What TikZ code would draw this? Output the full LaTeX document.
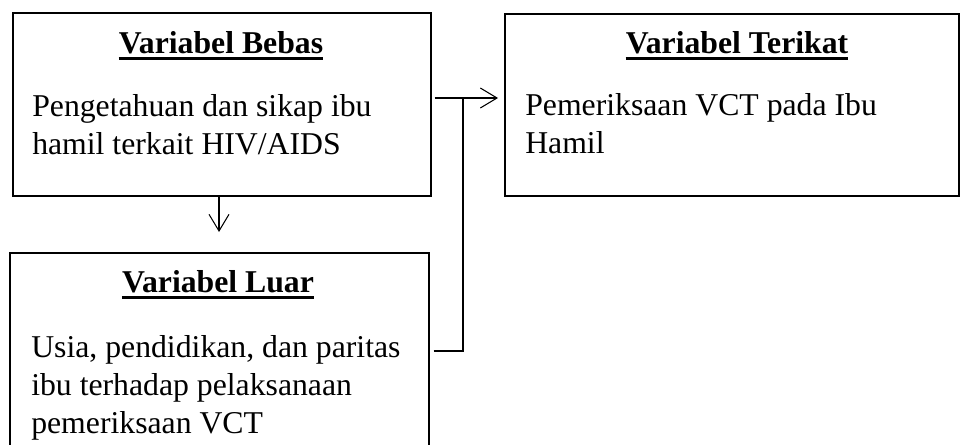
\documentclass[tikz,border=0pt]{standalone}
\usepackage{fontspec}
\setmainfont{Liberation Serif}
\usetikzlibrary{arrows.meta}

\begin{document}
\begin{tikzpicture}[x=0.75pt, y=0.75pt,
    kotak/.style={draw, line width=1.2pt, inner sep=0pt, anchor=north west},
    judul/.style={font=\fontsize{23.8}{28.5}\selectfont\bfseries, inner sep=0pt, anchor=base},
    isi/.style={font=\fontsize{23.8}{28.5}\selectfont, inner sep=0pt, anchor=base west, align=left},
    garis/.style={line width=0.8pt},
    panah/.style={garis, -{Straight Barb[length=12.5pt, width=15pt]}}]

    \useasboundingbox (0,0) rectangle (961,444);

    % Kotak variabel
    \node[kotak, minimum width=313.5pt, minimum height=137.25pt] (bebas) at (12,432) {};
    \node[kotak, minimum width=340.5pt, minimum height=136.5pt] (terikat) at (504,431) {};
    \node[kotak, minimum width=314.25pt, minimum height=159pt] (luar) at (9,192) {};

    % Judul
    \node[judul] (judulBebas) at (221,391) {Variabel Bebas};
    \node[judul] (judulTerikat) at (737,391) {Variabel Terikat};
    \node[judul] (judulLuar) at (218,152) {Variabel Luar};
    \foreach \j in {judulBebas, judulTerikat, judulLuar}
        \draw[line width=2.2pt] ([yshift=-3.8pt]\j.base west) -- ([yshift=-3.8pt]\j.base east);

    % Isi (anchor pada baris terakhir)
    \node[isi] (isiBebas) at (32,290) {Pengetahuan dan sikap ibu\\hamil terkait HIV/AIDS};
    \node[isi] (isiTerikat) at (525,291) {Pemeriksaan VCT pada Ibu\\Hamil};
    \node[isi] (isiLuar) at (31,11) {Usia, pendidikan, dan paritas\\ibu terhadap pelaksanaan\\pemeriksaan VCT};

    % Panah
    \coordinate (simpang) at (463,346);
    \coordinate (bawah) at (463,93);
    \coordinate (ujung) at (219,212);
    \draw[panah] ([xshift=2.25pt]bebas.east |- simpang) -- ([xshift=-4.5pt]terikat.west |- simpang);
    \draw[garis] ([xshift=3pt]luar.east |- bawah) -- (bawah) -- (simpang);
    \draw[panah] (bebas.south -| ujung) -- (ujung);

\end{tikzpicture}
\end{document}
